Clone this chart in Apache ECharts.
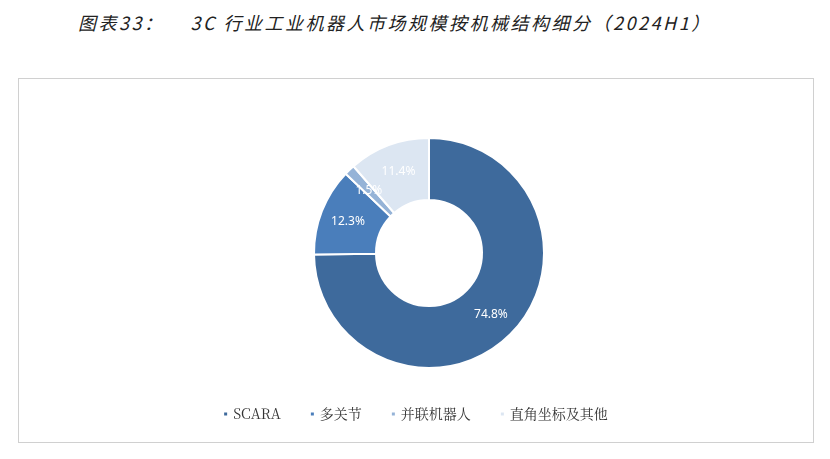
<!DOCTYPE html><html><head><meta charset="utf-8"><script src="https://cdn.jsdelivr.net/npm/echarts@6/dist/echarts.min.js"></script>
<style>body{margin:0;background:#fff}#t{position:absolute;left:78px;top:9px;font:italic 18px "Noto Sans CJK SC";letter-spacing:2.5px;color:#222}#box{position:absolute;left:18px;top:78px;width:794px;height:363px;border:1px solid #d0d0d0}#c{position:absolute;left:0;top:0;width:830px;height:459px}</style></head><body>
<div id="t">图表33：&nbsp;&nbsp;&nbsp;&nbsp;3C 行业工业机器人市场规模按机械结构细分（2024H1）</div><div id="box"></div><div id="c"></div>
<script>
const categories=['SCARA','多关节','并联机器人','直角坐标及其他'];
const values=[74.8,12.3,1.5,11.4];
const colors=['#3e6a9c','#4a7ebb','#95b3d7','#dce6f2'];
const ch=echarts.init(document.getElementById('c'));
ch.setOption({color:colors,
legend:{bottom:33,left:'center',itemWidth:5,itemHeight:5,icon:'rect',itemGap:28,textStyle:{fontFamily:'Noto Serif CJK SC, serif',fontSize:14,color:'#333'},data:categories},
series:[{type:'pie',center:[429,253],radius:[53,115],startAngle:90,clockwise:true,itemStyle:{borderColor:'#fff',borderWidth:2},
label:{position:'inside',formatter:p=>p.value.toFixed(1)+'%',color:'#fff',fontSize:12,fontFamily:'Noto Sans'},labelLine:{show:false},
data:categories.map((n,i)=>({name:n,value:values[i]}))}]});
</script></body></html>
